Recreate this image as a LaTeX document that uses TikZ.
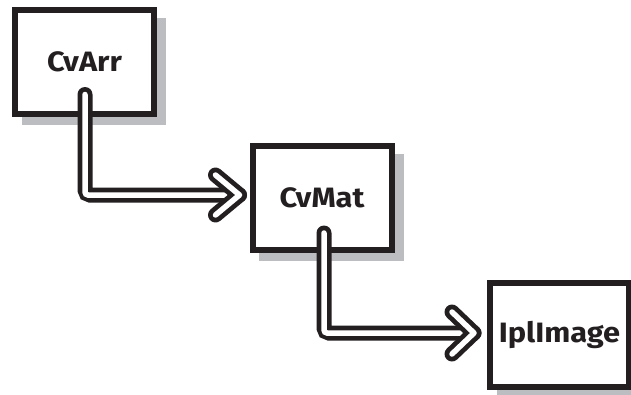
\documentclass[tikz,border=0pt]{standalone}
\usepackage{fontspec}
\newfontfamily\boxfont[FakeStretch=1.1]{Fira Sans}
\usetikzlibrary{calc}
\definecolor{ink}{HTML}{231F20}
\definecolor{shade}{HTML}{BCBDC0}
\tikzset{
  box/.style={draw=ink, line width=6pt, fill=white, minimum width=139pt, minimum height=104pt,
    inner sep=0pt, outer sep=0pt, font=\boxfont\fontsize{28}{32}\selectfont\bfseries, text=ink},
  shadowbox/.style={fill=shade},
  pipeout/.style={draw=ink, line width=15pt, rounded corners=5pt},
  pipein/.style={draw=white, line width=5.5pt, rounded corners=3pt},
  chevout/.style={draw=ink, line width=15pt, line cap=round, line join=round},
  chevin/.style={draw=white, line width=5.5pt, line cap=round, line join=round},
}
\begin{document}
\begin{tikzpicture}[x=1pt,y=-1pt]
\useasboundingbox (0,0) rectangle (631,394);
% shadows
\fill[shadowbox] (22,18) rectangle (166,125);
\fill[shadowbox] (259,154) rectangle (404,261);
\fill[shadowbox] (497,291) rectangle (640,400);
\node[box] (a) at (84.5,61.5) {CvArr};
\node[box] (b) at (322,198) {CvMat};
\node[box] (c) at (559.5,335) {IplImage};
% connector a -> b
\coordinate (s1) at ($(a.south)+(0.5,-19)$);
\coordinate (t1) at ($(b.west)+(-13,-3)$);
\draw[pipeout, line cap=round] (s1) |- (t1);
\draw[pipein, line cap=round] (s1) |- (t1);
\draw[chevout] ($(t1)+(-24,-20)$) -- (t1) -- ($(t1)+(-24,20)$);
\draw[chevin] ($(t1)+(-24,-20)$) -- (t1) -- ($(t1)+(-24,20)$);
% connector b -> c
\coordinate (s2) at ($(b.south)+(2,-17)$);
\coordinate (t2) at ($(c.west)+(-16,-2)$);
\draw[pipeout, line cap=round] (s2) |- (t2);
\draw[pipein, line cap=round] (s2) |- (t2);
\draw[chevout] ($(t2)+(-22,-21)$) -- (t2) -- ($(t2)+(-22,21)$);
\draw[chevin] ($(t2)+(-22,-21)$) -- (t2) -- ($(t2)+(-22,21)$);
\end{tikzpicture}
\end{document}
